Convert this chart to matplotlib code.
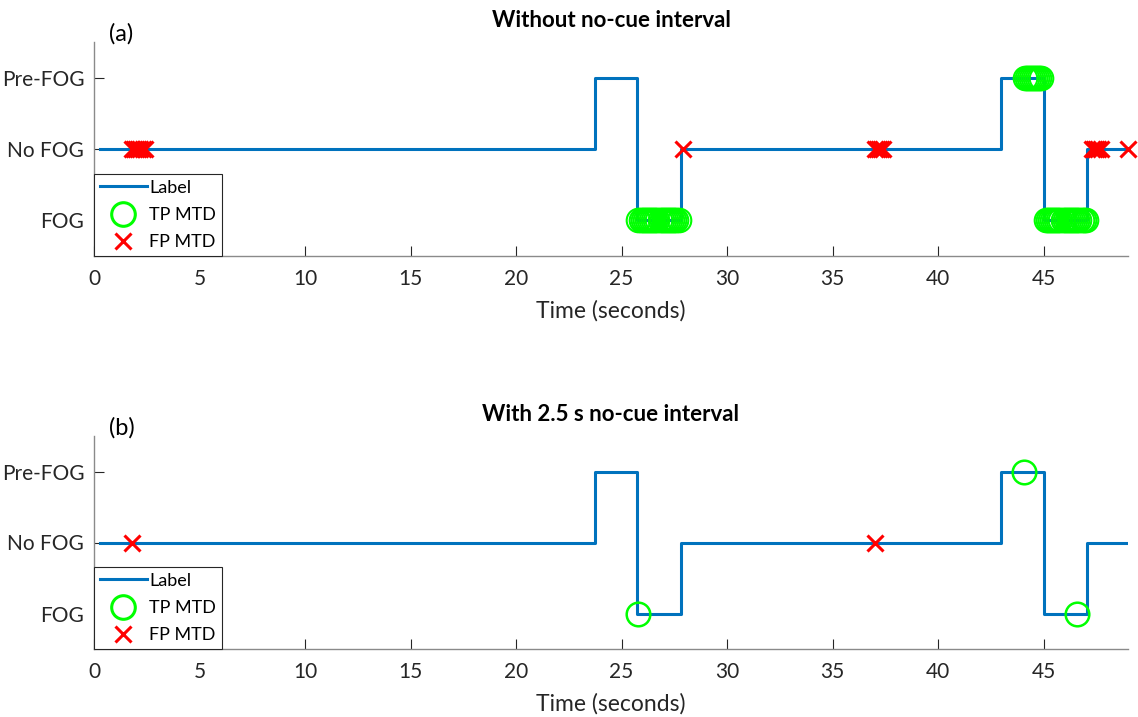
import matplotlib
matplotlib.use("Agg")
import matplotlib.pyplot as plt
from matplotlib.lines import Line2D

plt.rcParams['font.family'] = ['Lato', 'DejaVu Sans']

# ---- data ----
state_labels = ["FOG", "No FOG", "Pre-FOG"]
state_values = [0, 1, 2]
x_ticks = [0, 5, 10, 15, 20, 25, 30, 35, 40, 45]

label_t = [0.3, 23.75, 25.75, 27.8, 43.0, 45.0, 47.05, 49.0]
label_state = [1, 2, 0, 1, 2, 0, 1, 1]

# panel (a)
tp_a_t = [25.8, 25.9, 26.0, 26.1, 26.2, 26.3, 26.4, 26.5, 26.6, 26.7,
          26.8, 26.9, 27.0, 27.1, 27.2, 27.3, 27.4, 27.5, 27.6, 27.7,
          44.1, 44.2, 44.3, 44.4, 44.5, 44.6, 44.7, 44.8, 44.9,
          45.1, 45.2, 45.3, 45.4, 45.5, 45.6, 45.7, 45.8, 45.9, 46.0,
          46.1, 46.2, 46.3, 46.4, 46.5, 46.6, 46.7, 46.8, 46.9, 47.0]
tp_a_state = [0] * 20 + [2] * 9 + [0] * 20
fp_a_t = [1.8, 1.9, 2.0, 2.1, 2.2, 2.3, 2.4,
          27.9,
          37.0, 37.1, 37.2, 37.3, 37.4,
          47.3, 47.4, 47.5, 47.6, 47.7,
          49.0]
fp_a_state = [1] * 19

# panel (b)
tp_b_t = [25.8, 44.05, 46.6]
tp_b_state = [0, 2, 0]
fp_b_t = [1.8, 37.0]
fp_b_state = [1, 1]

titles = ["Without no-cue interval", "With 2.5 s no-cue interval"]
panel_tags = ["(a)", "(b)"]

BLUE = "#0072BD"
W, H = 1138, 717
fig = plt.figure(figsize=(W / 100, H / 100), dpi=100)

def px_axes(left, top, right, bottom):
    return fig.add_axes([left / W, 1 - bottom / H, (right - left) / W, (bottom - top) / H])

axes = [px_axes(94, 42, 1128, 256), px_axes(94, 436, 1128, 649)]
panels = [(tp_a_t, tp_a_state, fp_a_t, fp_a_state), (tp_b_t, tp_b_state, fp_b_t, fp_b_state)]

for ax, (tpt, tps, fpt, fps), title, tag in zip(axes, panels, titles, panel_tags):
    ax.step(label_t, label_state, where='post', color=BLUE, lw=2.2, zorder=2)
    ax.plot(tpt, tps, linestyle='none', marker='o', markersize=17, markerfacecolor='none',
            markeredgecolor='#00FF00', markeredgewidth=1.5 if len(tpt) > 5 else 1.8,
            clip_on=False, zorder=3)
    ax.plot(fpt, fps, linestyle='none', marker='x', markersize=12, color='#FF0000',
            markeredgewidth=2.2, clip_on=False, zorder=4)
    ax.set_xlim(0, 49)
    ax.set_ylim(-0.5, 2.5)
    ax.set_yticks(state_values)
    ax.set_yticklabels(state_labels)
    ax.set_xticks(x_ticks)
    for s in ['top', 'right']:
        ax.spines[s].set_visible(False)
    for s in ['left', 'bottom']:
        ax.spines[s].set_color('#8a8a8a')
        ax.spines[s].set_linewidth(1.0)
    ax.tick_params(direction='in', length=7, width=0.8, color='#262626',
                   labelsize=15, labelcolor='#262626')
    ax.tick_params(axis='y', pad=7)
    ax.tick_params(axis='x', pad=9)
    ax.set_xlabel("Time (seconds)", fontsize=16.5, color='#262626', labelpad=8)
    ax.set_title(title, fontsize=16, fontweight='bold', pad=11)
    ax.text(1.3, 2.46, tag, fontsize=17, ha='center', va='bottom', color='black')
    handles = [Line2D([], [], color=BLUE, lw=2.2),
               Line2D([], [], linestyle='none', marker='o', markersize=17, markerfacecolor='none',
                      markeredgecolor='#00FF00', markeredgewidth=2.2),
               Line2D([], [], linestyle='none', marker='x', markersize=11, color='#FF0000',
                      markeredgewidth=2.2)]
    leg = ax.legend(handles, ["Label", "TP MTD", "FP MTD"], loc='lower left',
                    bbox_to_anchor=(0, 0), borderaxespad=0, fontsize=13, fancybox=False,
                    framealpha=1, edgecolor='#262626', handlelength=2.6, handletextpad=0.12,
                    borderpad=0.33, labelspacing=0.62)
    leg.get_frame().set_linewidth(0.8)

fig.savefig("out.png", dpi=100)
